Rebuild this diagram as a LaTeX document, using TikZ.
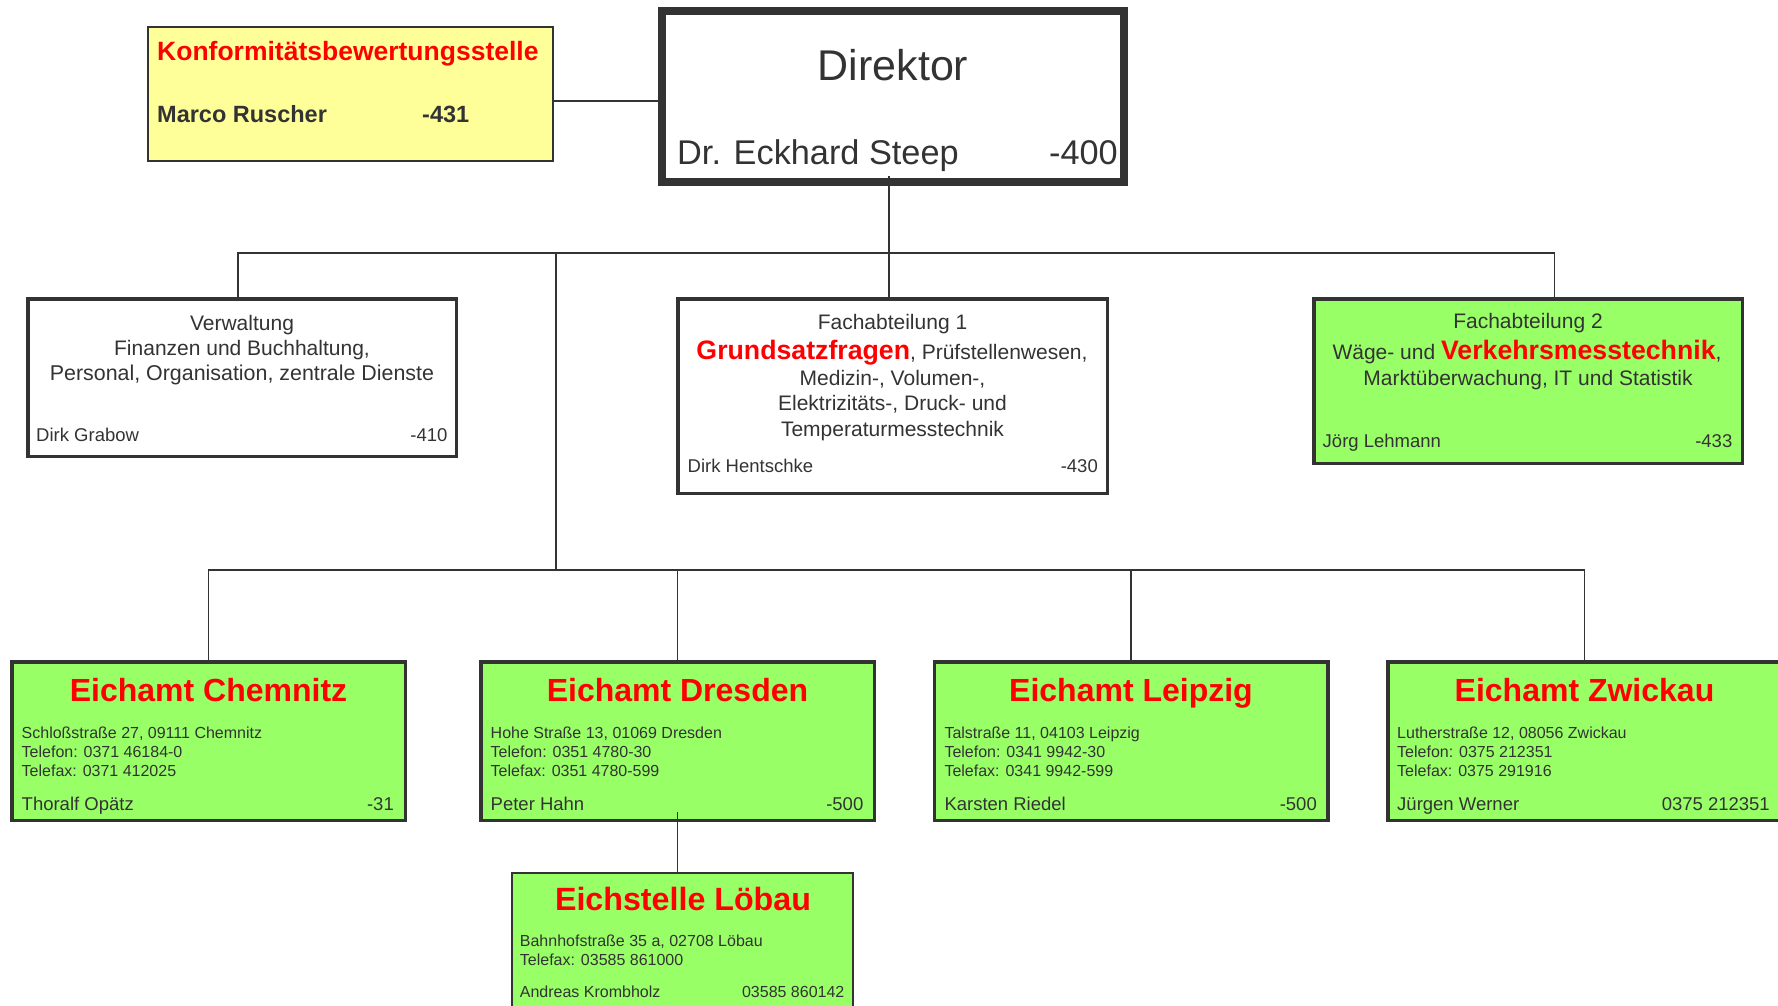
\documentclass[tikz,border=0pt]{standalone}
\usepackage{fontspec}
\setmainfont{Liberation Sans}
\definecolor{tc}{HTML}{333333}
\definecolor{bc}{HTML}{333333}
\definecolor{gfill}{HTML}{99FF66}
\definecolor{yfill}{HTML}{FFFF99}
\definecolor{rd}{HTML}{FF0000}
\begin{document}
\begin{tikzpicture}[x=1pt,y=-1pt,
  frame/.style={draw=bc, line width=3.5pt, inner sep=0pt, outer sep=0pt},
  boxw/.style={frame, fill=white},
  boxg/.style={frame, fill=gfill},
  boxy/.style={frame, fill=yfill, line width=2pt},
  boxd/.style={frame, fill=white, line width=8pt},
  eich/.style={minimum width=393.5pt, minimum height=158.5pt},
  conn/.style={draw=bc, line width=1.5pt},
  txt/.style={inner sep=0pt, text=tc},
  body/.style={txt, anchor=base, font=\fontsize{21}{25}\selectfont},
  addr/.style={txt, anchor=base west, font=\fontsize{16}{19}\selectfont},
  nml/.style={txt, anchor=base west, font=\fontsize{18.5}{22}\selectfont},
  nmr/.style={txt, anchor=base east, font=\fontsize{18.5}{22}\selectfont},
  hd/.style={inner sep=0pt, anchor=base, text=rd, font=\fontsize{32}{37}\selectfont\bfseries},
]
\useasboundingbox (0,0) rectangle (1778,1005);
\clip (0,0) rectangle (1778,1005);

% boxes
\node[boxy, minimum width=405pt, minimum height=134pt] (konf) at (350.5,94) {};
\node[boxd, minimum width=462pt, minimum height=171pt] (dir) at (893,96.5) {};
\node[boxw, minimum width=428.5pt, minimum height=157.5pt] (verw) at (242,377.5) {};
\node[boxw, minimum width=429.5pt, minimum height=194.5pt] (fa1) at (892.5,396) {};
\node[boxg, minimum width=428.5pt, minimum height=164.5pt] (fa2) at (1528,381) {};
\node[boxg, eich] (chem) at (208.5,741) {};
\node[boxg, eich] (dres) at (677.5,741) {};
\node[boxg, eich] (leip) at (1131,741) {};
\node[boxg, eich] (zwi) at (1584.5,741) {};
\node[boxg, line width=2pt, minimum width=341pt, minimum height=177pt] (loeb) at (682.5,961.5) {};

% connectors
\coordinate (j0) at (889,253);
\coordinate (jl) at (238,253);
\coordinate (jr) at (1554.5,253);
\coordinate (jv) at (556,253);
\coordinate (jb) at (556,570);
\draw[conn] ([yshift=-7pt]konf.east) -- ([yshift=-7pt]konf.east -| dir.west);
\draw[conn] ([yshift=6pt]dir.south -| j0) -- (j0);
\draw[conn] (verw.north -| jl) -- (jl) -- (jr) -- (fa2.north -| jr);
\draw[conn] (j0) -- (fa1.north -| j0);
\draw[conn] (jv) -- (jb);
\draw[conn] (chem.north) -- (chem.north |- jb) -- (zwi.north |- jb) -- (zwi.north);
\draw[conn] (dres.north) -- (dres.north |- jb);
\draw[conn] (leip.north) -- (leip.north |- jb);
\draw[conn] ([yshift=8pt]dres.south) -- (dres.south |- loeb.north);

% Konformitaetsbewertungsstelle
\node[inner sep=0pt, anchor=base west, text=rd, font=\fontsize{26.5}{30}\selectfont\bfseries] (konft) at (157,60.7) {Konformitätsbewertungsstelle};
\node[txt, anchor=base west, font=\fontsize{23.5}{28}\selectfont\bfseries] (konfn) at (157,122) {Marco Ruscher};
\node[txt, anchor=base west, font=\fontsize{23.5}{28}\selectfont\bfseries] (konfp) at (422,122) {-431};

% Direktor
\node[txt, anchor=base, font=\fontsize{43}{50}\selectfont] (dirt) at (893,80) {Direktor};
\node[txt, anchor=base west, font=\fontsize{34.3}{40}\selectfont] (dirn) at (677,164) {Dr. Eckhard Steep};
\node[txt, anchor=base east, font=\fontsize{34.3}{40}\selectfont] (dirp) at (1118,164) {-400};

% Verwaltung
\node[body] (v1) at (242,330) {Verwaltung};
\node[body] (v2) at (242,355) {Finanzen und Buchhaltung,};
\node[body, font=\fontsize{21.4}{25}\selectfont] (v3) at (242,380) {Personal, Organisation, zentrale Dienste};
\node[nml] (vn) at (36,441) {Dirk Grabow};
\node[nmr] (vp) at (447.7,441) {-410};

% Fachabteilung 1
\node[body] (f11) at (892.5,329) {Fachabteilung 1};
\node[body] (f12) at (892,359) {{\color{rd}\fontsize{26.7}{30}\selectfont\bfseries Grundsatzfragen}, Prüfstellenwesen,};
\node[body] (f13) at (892.5,385) {Medizin-, Volumen-,};
\node[body] (f14) at (892.5,410.5) {Elektrizitäts-, Druck- und};
\node[body] (f15) at (892.5,436) {Temperaturmesstechnik};
\node[nml] (f1n) at (687.5,472.5) {Dirk Hentschke};
\node[nmr] (f1p) at (1098,472.5) {-430};

% Fachabteilung 2
\node[body] (f21) at (1528,328.5) {Fachabteilung 2};
\node[body] (f22) at (1527,359) {Wäge- und {\color{rd}\fontsize{26.7}{30}\selectfont\bfseries Verkehrsmesstechnik},};
\node[body] (f23) at (1528,385.5) {Marktüberwachung, IT und Statistik};
\node[nml] (f2n) at (1322.5,447) {Jörg Lehmann};
\node[nmr] (f2p) at (1732.5,447) {-433};

% Eichamt Chemnitz
\node[hd] (ch0) at (208.5,701.7) {Eichamt Chemnitz};
\node[addr] (ch1) at (21.5,738.3) {Schloßstraße 27, 09111 Chemnitz};
\node[addr] (ch2) at (21.5,757.3) {Telefon: 0371 46184-0};
\node[addr] (ch3) at (21.5,776.2) {Telefax: 0371 412025};
\node[nml] (chn) at (21.5,810.7) {Thoralf Opätz};
\node[nmr] (chp) at (394,810.7) {-31};

% Eichamt Dresden
\node[hd] (dr0) at (677.5,701.7) {Eichamt Dresden};
\node[addr] (dr1) at (490.5,738.3) {Hohe Straße 13, 01069 Dresden};
\node[addr] (dr2) at (490.5,757.3) {Telefon: 0351 4780-30};
\node[addr] (dr3) at (490.5,776.2) {Telefax: 0351 4780-599};
\node[nml] (drn) at (490.5,810.7) {Peter Hahn};
\node[nmr] (drp) at (863.5,810.7) {-500};

% Eichamt Leipzig
\node[hd] (le0) at (1131,701.7) {Eichamt Leipzig};
\node[addr] (le1) at (944.3,738.3) {Talstraße 11, 04103 Leipzig};
\node[addr] (le2) at (944.3,757.3) {Telefon: 0341 9942-30};
\node[addr] (le3) at (944.3,776.2) {Telefax: 0341 9942-599};
\node[nml] (len) at (944.3,810.7) {Karsten Riedel};
\node[nmr] (lep) at (1317,810.7) {-500};

% Eichamt Zwickau
\node[hd] (zw0) at (1584.5,701.7) {Eichamt Zwickau};
\node[addr] (zw1) at (1397,738.3) {Lutherstraße 12, 08056 Zwickau};
\node[addr] (zw2) at (1397,757.3) {Telefon: 0375 212351};
\node[addr] (zw3) at (1397,776.2) {Telefax: 0375 291916};
\node[nml] (zwn) at (1397,810.7) {Jürgen Werner};
\node[nmr] (zwp) at (1770,810.7) {0375 212351};

% Eichstelle Loebau
\node[inner sep=0pt, anchor=base, text=rd, font=\fontsize{32.2}{38}\selectfont\bfseries] (lo0) at (683,910.7) {Eichstelle Löbau};
\node[addr] (lo1) at (519.7,946) {Bahnhofstraße 35 a, 02708 Löbau};
\node[addr] (lo2) at (519.7,965.7) {Telefax: 03585 861000};
\node[txt, anchor=base west, font=\fontsize{16}{19}\selectfont] (lon) at (519.7,997.3) {Andreas Krombholz};
\node[txt, anchor=base east, font=\fontsize{16}{19}\selectfont] (lop) at (844.6,997.3) {03585 860142};
\end{tikzpicture}
\end{document}
